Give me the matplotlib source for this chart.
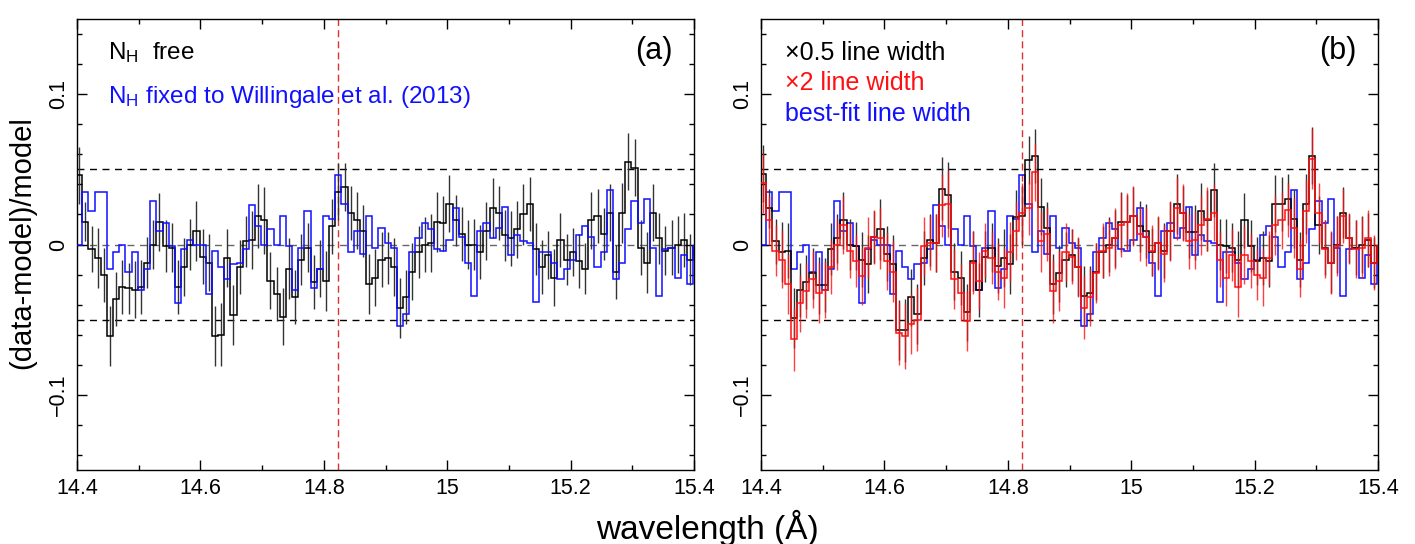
import numpy as np
import matplotlib
matplotlib.use("Agg")
import matplotlib.pyplot as plt
from matplotlib import font_manager
from matplotlib.ticker import MultipleLocator, FixedLocator

# ---------------- data ----------------
bin_start = 14.3986   # first bin edge (Å)
bin_width = 0.01      # Å

black_a = [0.046, 0.015, -0.003, -0.009, -0.020, -0.061, -0.036, -0.028, -0.029, -0.030,
           -0.028, -0.012, 0.000, 0.015, -0.001, -0.002, -0.028, -0.015, 0.000, 0.009,
           -0.008, -0.012, -0.061, -0.060, -0.009, -0.047, -0.015, 0.002, 0.003, 0.019,
           0.016, -0.024, -0.033, -0.048, -0.016, -0.035, -0.010, -0.002, -0.025, -0.016,
           -0.024, 0.012, 0.035, 0.038, 0.021, 0.016, 0.009, -0.026, -0.022, -0.010,
           -0.009, -0.015, -0.042, -0.035, -0.018, -0.005, 0.000, 0.001, 0.015, 0.014,
           0.027, 0.016, 0.007, 0.000, 0.000, -0.005, 0.009, 0.024, 0.021, 0.006,
           0.004, 0.010, 0.020, 0.027, -0.003, -0.015, -0.007, -0.022, 0.003, -0.010,
           -0.005, -0.011, -0.016, 0.016, 0.019, 0.007, 0.021, -0.018, 0.021, 0.055,
           0.051, -0.002, -0.012, 0.021, 0.004, -0.004, -0.002, 0.000, 0.003, -0.010]
err_black_a = [0.019, 0.013, 0.015, 0.020, 0.018, 0.020, 0.018, 0.018, 0.017, 0.019,
               0.018, 0.017, 0.016, 0.019, 0.017, 0.016, 0.018, 0.019, 0.017, 0.020,
               0.018, 0.019, 0.020, 0.021, 0.019, 0.020, 0.018, 0.017, 0.019, 0.021,
               0.022, 0.019, 0.018, 0.019, 0.020, 0.018, 0.017, 0.016, 0.018, 0.019,
               0.020, 0.018, 0.019, 0.016, 0.018, 0.019, 0.017, 0.020, 0.019, 0.018,
               0.017, 0.019, 0.020, 0.018, 0.019, 0.017, 0.018, 0.019, 0.020, 0.018,
               0.019, 0.017, 0.018, 0.016, 0.017, 0.018, 0.019, 0.020, 0.018, 0.017,
               0.018, 0.019, 0.020, 0.018, 0.017, 0.018, 0.016, 0.019, 0.018, 0.017,
               0.016, 0.018, 0.017, 0.019, 0.018, 0.017, 0.019, 0.018, 0.020, 0.019,
               0.019, 0.018, 0.020, 0.019, 0.017, 0.016, 0.018, 0.019, 0.018, 0.017]

blue_fit = [0.000, 0.035, 0.022, 0.035, 0.035, -0.016, -0.005, 0.000, -0.018, -0.005,
            -0.030, -0.016, 0.029, 0.009, 0.014, -0.001, -0.039, -0.003, 0.003, 0.000,
            0.000, -0.033, -0.004, -0.015, -0.023, -0.013, -0.012, -0.003, 0.026, 0.012,
            0.000, 0.010, 0.000, 0.019, -0.001, -0.030, -0.002, 0.022, -0.029, -0.016,
            0.019, 0.017, 0.046, 0.027, -0.005, 0.009, -0.006, 0.019, -0.002, 0.011,
            0.001, -0.002, -0.054, -0.046, -0.005, 0.004, 0.014, 0.010, -0.003, -0.004,
            0.003, 0.024, 0.005, -0.012, -0.034, 0.009, 0.014, 0.004, 0.011, 0.025,
            -0.007, 0.006, 0.002, 0.001, -0.038, -0.005, -0.005, -0.012, -0.023, -0.016,
            -0.010, 0.006, 0.012, 0.005, -0.015, -0.005, 0.036, -0.023, -0.012, 0.010,
            0.029, 0.014, 0.030, -0.002, -0.034, -0.003, -0.002, -0.022, -0.007, -0.026]

black_b = [0.047, 0.024, 0.002, -0.005, -0.004, -0.049, -0.030, -0.025, -0.019, -0.027,
           -0.027, -0.003, 0.004, 0.016, 0.000, -0.001, -0.010, -0.013, 0.005, 0.010,
           -0.006, -0.013, -0.057, -0.057, -0.035, -0.046, -0.009, 0.003, 0.001, 0.037,
           0.033, -0.018, -0.022, -0.045, -0.011, -0.030, -0.008, -0.002, -0.014, -0.009,
           -0.013, 0.018, 0.019, 0.056, 0.059, 0.025, 0.011, -0.026, -0.019, -0.010,
           -0.007, -0.015, -0.034, -0.032, -0.018, -0.005, 0.000, 0.004, 0.015, 0.015,
           0.019, 0.012, 0.009, -0.005, 0.001, -0.004, 0.009, 0.027, 0.021, 0.008,
           0.008, 0.022, 0.016, 0.036, 0.000, -0.001, -0.002, -0.010, 0.016, -0.001,
           -0.011, -0.009, -0.011, 0.027, 0.027, 0.030, 0.017, -0.010, 0.027, 0.059,
           0.013, -0.002, -0.012, 0.000, 0.021, 0.004, -0.002, 0.000, 0.003, -0.012]
err_black_b = err_black_a

red_b = [0.041, 0.016, -0.004, -0.010, -0.026, -0.063, -0.039, -0.031, -0.023, -0.032,
         -0.030, -0.015, 0.000, 0.013, -0.004, -0.011, -0.021, -0.002, 0.005, 0.004,
         -0.011, -0.018, -0.059, -0.061, -0.053, -0.050, -0.001, 0.001, 0.001, 0.026,
         0.027, -0.023, -0.032, -0.051, -0.012, -0.024, -0.004, -0.009, -0.018, -0.022,
         -0.005, 0.009, 0.021, 0.024, 0.048, 0.002, 0.007, -0.031, -0.024, -0.005,
         -0.008, -0.015, -0.042, -0.035, -0.019, -0.004, -0.002, 0.004, 0.013, 0.015,
         0.019, 0.007, 0.005, -0.004, 0.001, -0.006, 0.009, 0.024, 0.021, 0.002,
         0.003, 0.013, 0.017, 0.021, -0.010, -0.022, -0.007, -0.028, -0.007, -0.011,
         -0.020, -0.022, -0.009, 0.013, 0.016, 0.023, 0.011, -0.016, 0.022, 0.057,
         0.021, -0.003, -0.012, -0.001, 0.019, 0.004, -0.003, -0.002, 0.004, -0.012]
err_red_b = [0.020, 0.016, 0.017, 0.019, 0.020, 0.021, 0.019, 0.018, 0.019, 0.020,
             0.019, 0.018, 0.017, 0.019, 0.018, 0.017, 0.019, 0.020, 0.018, 0.020,
             0.019, 0.020, 0.021, 0.022, 0.020, 0.021, 0.019, 0.018, 0.019, 0.021,
             0.022, 0.020, 0.019, 0.020, 0.021, 0.019, 0.018, 0.017, 0.019, 0.020,
             0.020, 0.019, 0.020, 0.018, 0.019, 0.020, 0.018, 0.021, 0.020, 0.019,
             0.018, 0.020, 0.021, 0.019, 0.020, 0.018, 0.019, 0.020, 0.021, 0.019,
             0.020, 0.018, 0.019, 0.017, 0.018, 0.019, 0.020, 0.021, 0.019, 0.018,
             0.019, 0.020, 0.021, 0.019, 0.018, 0.019, 0.017, 0.020, 0.019, 0.018,
             0.017, 0.019, 0.018, 0.020, 0.019, 0.018, 0.020, 0.019, 0.021, 0.020,
             0.020, 0.019, 0.021, 0.020, 0.018, 0.017, 0.019, 0.020, 0.019, 0.018]

line_wl = 14.8225          # red dashed marker (Å)
ref_levels = [-0.05, 0.0, 0.05]
xticks = [14.4, 14.6, 14.8, 15.0, 15.2, 15.4]
xticklabels = ["14.4", "14.6", "14.8", "15", "15.2", "15.4"]
yticks = [-0.1, 0.0, 0.1]
yticklabels = ["\u22120.1", "0", "0.1"]

# ---------------- fonts ----------------
avail = {f.name for f in font_manager.fontManager.ttflist}
fam = [f for f in ["Liberation Sans Narrow", "Liberation Sans", "DejaVu Sans"] if f in avail]
plt.rcParams["font.family"] = fam
plt.rcParams["mathtext.default"] = "regular"

nbins = len(black_a)
edges = bin_start + bin_width * np.arange(nbins + 1)
centers = 0.5 * (edges[:-1] + edges[1:])

fig = plt.figure(figsize=(14.15, 5.44), dpi=100)
W, H = 1415, 544
axa = fig.add_axes([77 / W, (H - 470) / H, 617 / W, 451 / H])
axb = fig.add_axes([761 / W, (H - 470) / H, 617 / W, 451 / H])


def style(ax):
    ax.set_xlim(14.4, 15.4)
    ax.set_ylim(-0.15, 0.15)
    ax.xaxis.set_major_locator(FixedLocator(xticks))
    ax.set_xticklabels(xticklabels)
    ax.xaxis.set_minor_locator(MultipleLocator(0.1))
    ax.yaxis.set_major_locator(FixedLocator(yticks))
    ax.set_yticklabels(yticklabels, rotation=90, va="center")
    ax.yaxis.set_minor_locator(MultipleLocator(0.02))
    ax.tick_params(which="both", direction="in", top=True, right=True,
                   labelsize=15.5, width=1.0)
    ax.tick_params(which="major", length=7, pad=6)
    ax.tick_params(which="minor", length=3.5)
    for s in ax.spines.values():
        s.set_linewidth(1.0)
    for lv in ref_levels:
        ax.axhline(lv, color="black", lw=1.0, ls=(0, (5, 4)),
                   alpha=0.6 if lv == 0 else 1.0, zorder=1)
    ax.axvline(line_wl, color="#e03030", lw=1.0, ls=(0, (5, 3)), zorder=1)


style(axa)
style(axb)

# panel (a)
axa.errorbar(centers, black_a, yerr=err_black_a, fmt="none", ecolor="#333333",
             elinewidth=1.0, zorder=2)
axa.stairs(black_a, edges, color="black", lw=1.1, zorder=3)
axa.stairs(blue_fit, edges, color="#1010ff", lw=1.1, zorder=4)

axa.text(0.05, 0.925, "N$_{H}$  free", transform=axa.transAxes, fontsize=17.5,
         color="black", va="center", ha="left")
axa.text(0.05, 0.828, "N$_{H}$ fixed to Willingale et al. (2013)", transform=axa.transAxes,
         fontsize=17.5, color="#1010ff", va="center", ha="left")
axa.text(0.935, 0.93, "(a)", transform=axa.transAxes, fontsize=22, va="center", ha="center")

# panel (b)
axb.stairs(blue_fit, edges, color="#1010ff", lw=1.1, zorder=2)
axb.errorbar(centers, black_b, yerr=err_black_b, fmt="none", ecolor="#333333",
             elinewidth=1.0, zorder=3)
axb.stairs(black_b, edges, color="black", lw=1.1, zorder=4)
axb.errorbar(centers, red_b, yerr=err_red_b, fmt="none", ecolor="#ff1010",
             elinewidth=1.0, alpha=0.8, zorder=5)
axb.stairs(red_b, edges, color="#ff1010", lw=1.1, zorder=6)

axb.text(0.039, 0.925, "\u00d70.5 line width", transform=axb.transAxes, fontsize=18,
         color="black", va="center", ha="left")
axb.text(0.039, 0.857, "\u00d72 line width", transform=axb.transAxes, fontsize=18,
         color="#ff1010", va="center", ha="left")
axb.text(0.039, 0.789, "best-fit line width", transform=axb.transAxes, fontsize=18,
         color="#1010ff", va="center", ha="left")
axb.text(0.935, 0.93, "(b)", transform=axb.transAxes, fontsize=22, va="center", ha="center")

fig.text(707 / W, 1 - 528 / H, "wavelength (\u00c5)", fontsize=24, ha="center", va="center")
fig.text(22 / W, 1 - 243 / H, "(data-model)/model", fontsize=21, rotation=90,
         ha="center", va="center")

fig.savefig("out.png", dpi=100)
